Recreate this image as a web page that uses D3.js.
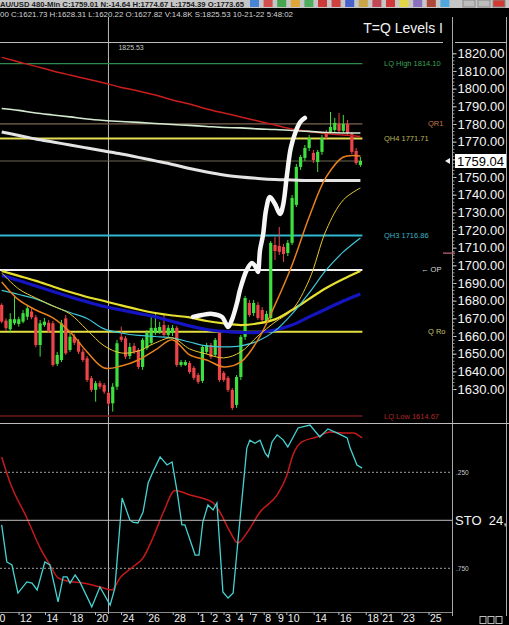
<!DOCTYPE html>
<html>
<head>
<meta charset="utf-8">
<script src="https://cdn.jsdelivr.net/npm/d3@7"></script>
<style>
  html, body { margin: 0; padding: 0; background: #000; overflow: hidden; }
  svg { display: block; }
  text { font-family: "Liberation Sans", Arial, sans-serif; }
</style>
</head>
<body>
<svg id="chart" width="509" height="625"></svg>
<script>
// 480-min bars: [open, high, low, close]
const candles = [
  [1677.6, 1678.5, 1667.2, 1668.1], [1668.7, 1670.0, 1663.0, 1664.4], [1663.8, 1672.9, 1661.6, 1669.5],
  [1667.2, 1682.3, 1666.2, 1669.5], [1666.8, 1670.9, 1665.3, 1669.5], [1668.1, 1674.7, 1667.2, 1672.9],
  [1670.9, 1677.6, 1669.1, 1675.7], [1673.8, 1675.7, 1669.5, 1670.6], [1670.6, 1671.9, 1653.6, 1654.9],
  [1654.9, 1669.1, 1648.3, 1667.2], [1666.2, 1670.2, 1665.1, 1668.1], [1667.5, 1669.1, 1661.7, 1662.5],
  [1667.2, 1668.5, 1642.6, 1643.6], [1644.2, 1651.0, 1643.0, 1649.3], [1646.4, 1669.1, 1645.3, 1667.2],
  [1670.0, 1671.9, 1649.3, 1650.2], [1652.1, 1661.7, 1651.0, 1659.6], [1659.6, 1661.2, 1654.9, 1656.2],
  [1656.8, 1658.3, 1649.8, 1651.1], [1651.1, 1652.7, 1645.3, 1646.4], [1647.4, 1648.7, 1634.0, 1635.1],
  [1636.1, 1637.4, 1628.3, 1629.5], [1629.5, 1634.6, 1622.8, 1633.3], [1633.3, 1634.6, 1630.0, 1631.3],
  [1632.3, 1633.4, 1627.2, 1628.5], [1627.82, 1628.31, 1620.22, 1621.73], [1621.9, 1633.3, 1617.2, 1631.3],
  [1631.3, 1657.8, 1629.5, 1655.9], [1659.6, 1665.3, 1656.6, 1657.8], [1658.7, 1660.0, 1647.0, 1648.3],
  [1648.7, 1656.1, 1647.0, 1653.8], [1654.4, 1656.1, 1649.8, 1651.0], [1652.1, 1653.2, 1641.3, 1642.5],
  [1642.5, 1658.9, 1640.8, 1657.8], [1653.2, 1663.4, 1652.1, 1661.7], [1656.1, 1671.9, 1654.9, 1664.6],
  [1661.7, 1673.0, 1660.6, 1664.6], [1662.3, 1668.0, 1661.2, 1665.1], [1666.2, 1671.9, 1659.5, 1660.6],
  [1660.6, 1666.2, 1659.5, 1664.6], [1661.7, 1666.2, 1660.0, 1664.6], [1664.6, 1665.7, 1642.5, 1643.6],
  [1643.6, 1646.4, 1642.5, 1645.3], [1643.6, 1646.4, 1643.0, 1645.3], [1644.7, 1645.9, 1638.5, 1639.6],
  [1641.9, 1643.0, 1635.1, 1636.3], [1637.9, 1639.1, 1632.9, 1634.0], [1634.6, 1654.9, 1633.4, 1653.8],
  [1651.0, 1656.1, 1649.8, 1654.9], [1654.9, 1656.1, 1647.0, 1648.1], [1649.3, 1658.9, 1648.1, 1657.8],
  [1661.7, 1662.9, 1634.0, 1635.1], [1639.1, 1640.2, 1634.0, 1635.1], [1636.3, 1637.4, 1628.3, 1629.5],
  [1629.5, 1630.6, 1618.1, 1619.3], [1621.0, 1637.9, 1619.3, 1636.8], [1636.8, 1660.6, 1635.1, 1659.5],
  [1659.5, 1682.7, 1657.8, 1681.5], [1678.7, 1680.4, 1670.8, 1671.9], [1673.0, 1680.4, 1671.3, 1678.7],
  [1677.6, 1679.3, 1669.1, 1670.2], [1674.7, 1676.4, 1667.9, 1669.1], [1667.9, 1674.2, 1666.2, 1672.5],
  [1670.2, 1713.8, 1668.5, 1712.7], [1711.5, 1716.1, 1703.0, 1708.1], [1711.0, 1721.7, 1705.9, 1707.6],
  [1710.4, 1712.1, 1701.9, 1706.4], [1707.0, 1714.4, 1705.3, 1712.7], [1712.7, 1739.8, 1711.5, 1738.1],
  [1734.2, 1757.4, 1733.0, 1755.7], [1755.7, 1762.5, 1754.0, 1761.3], [1760.8, 1768.1, 1759.1, 1766.4],
  [1766.4, 1773.8, 1764.7, 1772.1], [1763.6, 1765.3, 1757.9, 1759.6], [1758.5, 1765.3, 1752.8, 1764.2],
  [1764.2, 1773.8, 1762.5, 1772.1], [1774.9, 1776.6, 1771.0, 1772.7], [1775.5, 1786.8, 1774.4, 1778.3],
  [1776.6, 1783.4, 1775.5, 1780.6], [1780.0, 1786.2, 1774.9, 1776.1], [1776.1, 1785.1, 1774.9, 1780.0],
  [1780.0, 1782.3, 1773.8, 1774.9], [1774.4, 1775.5, 1763.0, 1764.2], [1764.7, 1766.4, 1756.8, 1757.9],
  [1756.8, 1761.3, 1755.7, 1759.04]
];

// Moving averages, read every 4th bar
const maBars = [0, 4, 8, 12, 16, 20, 24, 28, 32, 36, 40, 44, 48, 52, 56, 60, 64, 68, 72, 76, 80, 84];
const maRed = [1817.7, 1815.1, 1812.6, 1810.0, 1807.7, 1805.5, 1803.2, 1800.7, 1798.7, 1796.4, 1793.6,
  1791.3, 1788.5, 1786.2, 1784.0, 1781.7, 1779.4, 1777.2, 1775.8, 1774.6, 1773.8, 1772.9];
const maPale = [1788.8, 1787.7, 1786.2, 1785.1, 1784.0, 1782.8, 1782.0, 1781.4, 1780.9, 1780.3, 1779.7,
  1779.2, 1778.6, 1778.0, 1777.8, 1777.2, 1776.9, 1776.3, 1775.8, 1775.2, 1774.9, 1774.9];
const maWhite = [1775.5, 1773.5, 1771.5, 1769.8, 1768.1, 1766.4, 1764.7, 1763.0, 1761.1, 1759.1, 1757.1,
  1754.8, 1752.8, 1751.1, 1750.0, 1749.2, 1748.6, 1748.3, 1748.0, 1748.0, 1748.0, 1748.0];
const maYellow = [1696.8, 1694.0, 1691.2, 1688.0, 1684.9, 1682.1, 1679.8, 1677.3, 1675.0, 1673.0, 1671.6,
  1670.5, 1668.5, 1667.1, 1666.2, 1667.1, 1669.4, 1674.7, 1681.0, 1687.2, 1692.3, 1696.8];
const maBlue = [1694.3, 1691.4, 1688.3, 1685.2, 1682.1, 1679.3, 1676.7, 1674.7, 1672.8, 1670.8, 1668.2,
  1665.7, 1663.7, 1662.6, 1662.0, 1662.0, 1663.4, 1666.2, 1670.8, 1675.3, 1679.8, 1683.8];
const maCyan = [1685.8, 1683.5, 1681.0, 1677.0, 1673.3, 1669.9, 1664.0, 1661.7, 1660.3, 1659.7, 1658.9,
  1656.6, 1654.4, 1653.8, 1654.4, 1657.2, 1662.9, 1672.5, 1684.4, 1697.4, 1707.6, 1715.5];
const maGold = [1695.7, 1686.6, 1681.5, 1677.0, 1672.5, 1663.4, 1654.4, 1650.4, 1651.5, 1656.1, 1658.9,
  1652.7, 1649.8, 1647.6, 1651.0, 1660.0, 1667.9, 1674.7, 1691.7, 1720.0, 1737.0, 1743.8];
const maOrange = [1690.6, 1680.4, 1674.7, 1670.2, 1662.3, 1651.0, 1641.9, 1643.0, 1646.4, 1652.1, 1657.8,
  1649.3, 1646.4, 1642.5, 1645.3, 1657.8, 1677.6, 1700.2, 1727.4, 1750.0, 1761.3, 1761.9];

// Hand-drawn trend sketch: bar position, price
const sketchBars = [44.8, 46.9, 49.3, 51.6, 53.0, 53.9, 55.1, 55.8, 57.4, 58.6, 59.6, 60.0, 60.5, 61.2,
  61.9, 62.8, 64.0, 65.2, 65.9, 66.8, 67.7, 68.9, 69.9, 71.0];
const sketchPrices = [1670.8, 1671.9, 1672.5, 1670.8, 1665.1, 1669.1, 1678.7, 1686.1, 1697.4, 1701.3,
  1698.5, 1696.2, 1708.7, 1717.2, 1731.3, 1738.7, 1734.7, 1729.1, 1734.2, 1751.1, 1766.4, 1776.0,
  1781.1, 1783.4];

// Stochastic %K and %D
const stoKBars = [0, 1.2, 2.4, 3.8, 5.9, 7.1, 8.3, 10.1, 11.3, 13.2, 14.4, 15.3, 16.0, 17.2, 18.3, 21.1,
  23.0, 25.4, 26.5, 28.2, 30.0, 30.7, 31.9, 33.1, 34.3, 35.4, 37.1, 38.7, 39.9, 41.1, 42.2, 42.9, 45.3,
  46.2, 47.1, 48.3, 49.5, 50.4, 51.8, 53.0, 54.2, 55.3, 57.4, 58.1, 59.3, 60.5, 61.7, 62.4, 63.3, 64.5,
  65.9, 67.0, 69.4, 72.2, 74.5, 76.4, 78.5, 80.9, 81.6, 83.2, 84.4];
const stoK = [0.524, 0.717, 0.733, 0.879, 0.821, 0.827, 0.863, 0.717, 0.733, 0.925, 0.795, 0.795, 0.827,
  0.785, 0.821, 0.951, 0.847, 0.941, 0.853, 0.384, 0.498, 0.509, 0.514, 0.457, 0.306, 0.248, 0.170,
  0.212, 0.196, 0.353, 0.524, 0.524, 0.681, 0.681, 0.509, 0.420, 0.446, 0.410, 0.873, 0.905, 0.879,
  0.613, 0.124, 0.083, 0.099, 0.083, 0.150, 0.170, 0.092, 0.055, 0.081, 0.118, 0.019, 0.004, 0.066,
  0.024, 0.045, 0.071, 0.124, 0.212, 0.228];
const stoDBars = [0, 1.9, 5.9, 9.0, 11.3, 13.2, 15.3, 19.0, 23.0, 25.8, 27.7, 30.7, 33.1, 35.4, 37.8,
  40.6, 44.1, 49.3, 51.1, 53.5, 55.3, 57.4, 60.5, 64.5, 66.8, 68.2, 70.3, 73.8, 76.9, 79.9, 82.3, 84.4];
const stoD = [0.170, 0.300, 0.488, 0.644, 0.733, 0.800, 0.816, 0.827, 0.847, 0.863, 0.800, 0.743, 0.696,
  0.592, 0.462, 0.345, 0.368, 0.405, 0.457, 0.561, 0.618, 0.566, 0.457, 0.368, 0.264, 0.160, 0.092,
  0.066, 0.040, 0.045, 0.045, 0.071];

// Quarterly levels
const levelNames = ['LQ High 1814.10', 'QR1', 'QH4 1771.71', 'last', 'QH3 1716.86', 'OP', 'Q Ro', 'LQ Low 1614.67'];
const levelValues = [1814.10, 1780.0, 1771.71, 1759.04, 1716.86, 1697.4, 1662.4, 1614.67];
const axisMarker = 1706.9;

const priceTicks = [1630, 1640, 1650, 1660, 1670, 1680, 1690, 1700, 1710, 1720, 1730, 1740, 1750, 1760,
  1770, 1780, 1790, 1800, 1810, 1820];
const stoTicks = [0.25, 0.75];
const stoTickLabels = ['.250', '.750'];
const dayBars = [-1.9, 4.3, 10.5, 16.4, 22.2, 28.3, 34.3, 40.4, 46.3, 49.3, 52.3, 55.3, 58.5, 61.7, 64.7,
  67.0, 73.4, 79.2, 85.6, 89.1, 94.0, 100.3];
const dayLabels = ['10', '12', '14', '18', '20', '24', '26', '28', '1', '2', '3', '4', '7', '8', '9', '10',
  '14', '16', '18', '21', '23', '25'];

const lastPrice = 1759.04;
const cursorBar = 25;
const cursorPrice = 1825.53;
const titleLine = 'AU/USD 480-Min C:1759.01 N:-14.64 H:1774.67 L:1754.39 O:1773.65';
const infoLine = '00 C:1621.73 H:1628.31 L:1620.22 O:1627.82 V:14.8K S:1825.53 10-21-22 5:48:02';

// Styles
const levelStyle = {
  'LQ High 1814.10': { stroke: '#2f8a4c', w: 1.2, label: '#3aa25a', lx: 384 },
  'QR1': { stroke: '#7c6650', w: 1.2, label: '#c07a48', lx: 428 },
  'QH4 1771.71': { stroke: '#e6dc52', w: 2, label: '#b8b45a', lx: 384 },
  'last': { stroke: '#6c6850', w: 1.2, label: null },
  'QH3 1716.86': { stroke: '#2fb8d0', w: 2, label: '#3fb0c0', lx: 384 },
  'OP': { stroke: '#f0f0f0', w: 2, label: '#d8d8d8', lx: 421, text: '\u2190 OP' },
  'Q Ro': { stroke: '#e4e040', w: 2, label: '#c8c46a', lx: 428 },
  'LQ Low 1614.67': { stroke: '#6e1a1a', w: 1.5, label: '#b02828', lx: 384 }
};

const svg = d3.select('#chart');
const plotRight = 452;

const x = d3.scaleLinear().domain([0, 84]).range([1.7, 360.4]);
const y = d3.scaleLinear().domain([1630, 1820]).range([389, 53.3]);
const ys = d3.scaleLinear().domain([0.25, 0.75]).range([472.3, 568.3]);

svg.append('rect').attr('width', 509).attr('height', 625).attr('fill', '#000');

const defs = svg.append('defs');
defs.append('clipPath').attr('id', 'clipMain')
  .append('rect').attr('x', 0).attr('y', 17).attr('width', plotRight).attr('height', 406);
defs.append('clipPath').attr('id', 'clipSto')
  .append('rect').attr('x', 0).attr('y', 424).attr('width', plotRight).attr('height', 188);

// Window title strip and toolbar
svg.append('rect').attr('width', 509).attr('height', 8).attr('fill', '#c6c6c6');
svg.append('text').attr('x', 0).attr('y', 7).attr('font-size', 7.5).attr('font-weight', 'bold')
  .attr('fill', '#1a1a1a').attr('textLength', 244).attr('lengthAdjust', 'spacingAndGlyphs').text(titleLine);
const iconColors = ['#2f78d8', '#d23a3a', '#2fa03a', '#e0a020', '#39a84a', '#cc2020', '#d02828', '#3050c8',
  '#c8a030', '#c03040', '#d02020', '#e8d830', '#8060c0', '#a83020', '#3aa0e0'];
svg.append('g').selectAll('rect').data(iconColors).join('rect')
  .attr('x', (d, i) => 250 + i * 13.6).attr('y', 0).attr('width', 9).attr('height', 7)
  .attr('fill', d => d).attr('opacity', 0.85);
svg.append('g').selectAll('rect').data(['#bdbdbd', '#bdbdbd', '#d03a30']).join('rect')
  .attr('x', (d, i) => 463 + i * 15).attr('y', 0).attr('width', 12).attr('height', 7)
  .attr('fill', d => d).attr('stroke', '#888');

svg.append('text').attr('x', 0).attr('y', 16.5).attr('font-size', 8).attr('fill', '#d4d4d4')
  .attr('textLength', 293).attr('lengthAdjust', 'spacingAndGlyphs').text(infoLine);

// Frame lines
svg.append('line').attr('x1', plotRight + 0.5).attr('x2', plotRight + 0.5).attr('y1', 17).attr('y2', 616)
  .attr('stroke', '#a8a8a8');
svg.append('line').attr('x1', 506.5).attr('x2', 506.5).attr('y1', 17).attr('y2', 616)
  .attr('stroke', '#a8a8a8');
svg.append('line').attr('x1', 0).attr('x2', 509).attr('y1', 423.5).attr('y2', 423.5)
  .attr('stroke', '#bdbdbd');
svg.append('line').attr('x1', 0).attr('x2', plotRight).attr('y1', 612.5).attr('y2', 612.5)
  .attr('stroke', '#8a8a8a');

// Cursor cross
svg.append('line').attr('x1', x(cursorBar)).attr('x2', x(cursorBar)).attr('y1', 17).attr('y2', 614)
  .attr('stroke', '#bcbcbc');
svg.append('line').attr('x1', 0).attr('x2', 443).attr('y1', y(cursorPrice) - 1).attr('y2', y(cursorPrice) - 1)
  .attr('stroke', '#bcbcbc');
svg.append('line').attr('x1', 455).attr('x2', 507).attr('y1', y(cursorPrice) - 1).attr('y2', y(cursorPrice) - 1)
  .attr('stroke', '#bcbcbc');
svg.append('text').attr('x', x(cursorBar) + 10).attr('y', y(cursorPrice) + 6).attr('font-size', 7)
  .attr('fill', '#c8c8c8').text(d3.format('.2f')(cursorPrice));

svg.append('text').attr('x', 443).attr('y', 33).attr('text-anchor', 'end').attr('font-size', 14)
  .attr('fill', '#f2f2f2').text('T=Q Levels I');

// Main panel
const main = svg.append('g').attr('clip-path', 'url(#clipMain)');

levelNames.forEach((name, i) => {
  const st = levelStyle[name];
  main.append('line').attr('x1', 0).attr('x2', x(84) + 2).attr('y1', y(levelValues[i])).attr('y2', y(levelValues[i]))
    .attr('stroke', st.stroke).attr('stroke-width', st.w);
  if (st.label) {
    main.append('text').attr('x', st.lx).attr('y', y(levelValues[i]) + 2.5).attr('font-size', 7.5)
      .attr('fill', st.label).text(st.text || name);
  }
});
svg.append('line').attr('x1', 443).attr('x2', 455).attr('y1', y(axisMarker)).attr('y2', y(axisMarker))
  .attr('stroke', '#b86070').attr('stroke-width', 1.3);

const up = '#3ee03e', down = '#ec4448';
const cg = main.append('g').selectAll('g').data(candles).join('g');
cg.append('line')
  .attr('x1', (d, i) => x(i)).attr('x2', (d, i) => x(i))
  .attr('y1', d => y(d[1])).attr('y2', d => y(d[2]))
  .attr('stroke', d => d[3] >= d[0] ? up : down).attr('stroke-width', 1);
cg.append('rect')
  .attr('x', (d, i) => x(i) - 1.6).attr('width', 3.2)
  .attr('y', d => y(Math.max(d[0], d[3])))
  .attr('height', d => Math.max(1, Math.abs(y(d[0]) - y(d[3]))))
  .attr('fill', d => d[3] >= d[0] ? up : down);

const maLine = d3.line().x((d, i) => x(maBars[i])).y(d => y(d)).curve(d3.curveCatmullRom.alpha(0.5));
const maSeries = [
  { v: maRed, c: '#c81e1e', w: 1.5 },
  { v: maPale, c: '#d4ead0', w: 1.6 },
  { v: maWhite, c: '#e4e4e4', w: 3 },
  { v: maBlue, c: '#1414c0', w: 3.2 },
  { v: maYellow, c: '#e8e030', w: 2.2 },
  { v: maCyan, c: '#3ec6d6', w: 1.2 },
  { v: maGold, c: '#e8c830', w: 1 },
  { v: maOrange, c: '#e8801e', w: 1.5 }
];
main.append('g').selectAll('path').data(maSeries).join('path')
  .attr('d', d => maLine(d.v)).attr('fill', 'none')
  .attr('stroke', d => d.c).attr('stroke-width', d => d.w);

const sketch = d3.line().x(d => x(d[0])).y(d => y(d[1])).curve(d3.curveCatmullRom.alpha(0.5));
main.append('path').attr('d', sketch(d3.zip(sketchBars, sketchPrices)))
  .attr('fill', 'none').attr('stroke', '#f6f6f6').attr('stroke-width', 4.5)
  .attr('stroke-linecap', 'round').attr('stroke-linejoin', 'round');

// Price axis
const axisG = svg.append('g').attr('transform', `translate(${plotRight + 0.5},0)`)
  .call(d3.axisRight(y).tickValues(priceTicks).tickSize(4).tickPadding(1).tickFormat(d3.format('.2f')));
axisG.select('.domain').remove();
axisG.selectAll('line').attr('stroke', '#cfcfcf');
axisG.selectAll('text').attr('fill', '#f4f4f4').attr('font-size', 13)
  .attr('font-family', '"Liberation Sans", Arial, sans-serif');
const minor = svg.append('g').attr('transform', `translate(${plotRight + 0.5},0)`)
  .call(d3.axisRight(y).ticks(95).tickSize(2).tickFormat(''));
minor.select('.domain').remove();
minor.selectAll('line').attr('stroke', '#9a9a9a');

// Last price tag
const ly = y(lastPrice);
svg.append('path').attr('d', `M445,${ly} L450,${ly - 3} L450,${ly + 3} Z`).attr('fill', '#f0f0f0');
svg.append('rect').attr('x', 455).attr('y', ly - 7).attr('width', 51).attr('height', 14).attr('fill', '#fff');
svg.append('text').attr('x', 457).attr('y', ly + 4.5).attr('font-size', 13).attr('fill', '#000')
  .text(d3.format('.2f')(lastPrice));

// Stochastic panel
const sto = svg.append('g').attr('clip-path', 'url(#clipSto)');
sto.selectAll('.grid').data(stoTicks).join('line').attr('class', 'grid')
  .attr('x1', 0).attr('x2', plotRight).attr('y1', d => ys(d)).attr('y2', d => ys(d))
  .attr('stroke', '#a0a0a0').attr('stroke-dasharray', '2,2');
svg.append('line').attr('x1', 0).attr('x2', plotRight).attr('y1', ys(0.5)).attr('y2', ys(0.5))
  .attr('stroke', '#bdbdbd');
svg.selectAll('.stolab').data(stoTicks).join('text').attr('class', 'stolab')
  .attr('x', 456).attr('y', d => ys(d) + 2.5).attr('font-size', 6.5).attr('fill', '#c8c8c8')
  .text((d, i) => stoTickLabels[i]);
svg.append('text').attr('x', 455).attr('y', ys(0.5) + 5).attr('font-size', 13).attr('fill', '#f4f4f4')
  .attr('xml:space', 'preserve').text('STO  24,');

const stoLine = d3.line().x(d => x(d[0])).y(d => ys(d[1]));
sto.append('path').attr('d', stoLine.curve(d3.curveMonotoneX)(d3.zip(stoDBars, stoD)))
  .attr('fill', 'none').attr('stroke', '#c41a1a').attr('stroke-width', 1.5);
sto.append('path').attr('d', d3.line().x(d => x(d[0])).y(d => ys(d[1]))(d3.zip(stoKBars, stoK)))
  .attr('fill', 'none').attr('stroke', '#46d2d2').attr('stroke-width', 1.3);

// Date axis
const dg = svg.append('g').selectAll('g').data(dayBars).join('g');
dg.append('line').attr('x1', d => x(d) - 1).attr('x2', d => x(d) - 1).attr('y1', 612).attr('y2', 615)
  .attr('stroke', '#bdbdbd');
dg.append('text').attr('x', d => x(d)).attr('y', 622).attr('font-size', 10.5).attr('fill', '#f0f0f0')
  .text((d, i) => dayLabels[i]);

svg.append('g').selectAll('rect').data([0, 1, 2]).join('rect')
  .attr('x', d => 480 + d * 8).attr('y', 616.5).attr('width', 6).attr('height', 7)
  .attr('fill', 'none').attr('stroke', '#bdbdbd');
</script>
</body>
</html>
